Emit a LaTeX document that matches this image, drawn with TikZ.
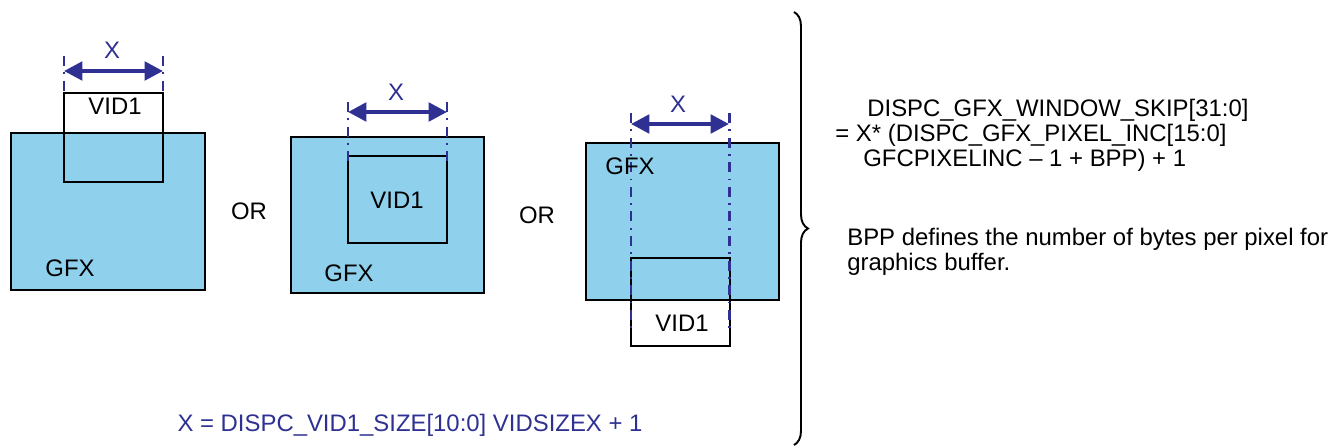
\documentclass[tikz,border=0pt]{standalone}
\usepackage{fontspec}
\setmainfont{Liberation Sans}
\usetikzlibrary{arrows.meta,decorations.pathreplacing}
\definecolor{gfxblue}{RGB}{143,208,236}
\definecolor{dimblue}{RGB}{46,49,146}
\tikzset{
  lbl/.style={font=\fontsize{13.6}{16}\selectfont, inner sep=0pt},
  winbox/.style={draw=black, line width=1.1pt},
  guide/.style={draw=dimblue, line width=1.7pt, dash pattern=on 5.7pt off 3.6pt on 1.1pt off 3.6pt},
  dim/.style={draw=dimblue, line width=2.3pt, {Triangle[length=10.5pt,width=10.5pt]}-{Triangle[length=10.5pt,width=10.5pt]}},
}
\begin{document}
\begin{tikzpicture}[x=0.02cm, y=-0.02cm]
  \useasboundingbox (0,0) rectangle (1336,447);

  % VID1 above GFX
  \draw[winbox, fill=gfxblue] (11,133) rectangle (205,290);
  \draw[winbox] (64,93) rectangle (163,182);
  \coordinate (aL) at (64,71);
  \coordinate (aR) at (163,71);
  \draw[guide] (64,56) -- (64,94);
  \draw[guide] (163,56) -- (163,94);
  \draw[dim] (aL) -- (aR);
  \node[lbl, text=dimblue] (xA) at (112,50) {X};
  \node[lbl] (vidA) at (115,106) {VID1};
  \node[lbl] (gfxA) at (70,268) {GFX};
  \node[lbl] (orA) at (249,211) {OR};

  % VID1 inside GFX
  \draw[winbox, fill=gfxblue] (291,137) rectangle (484,293);
  \draw[winbox] (348,156) rectangle (447,243);
  \coordinate (bL) at (348,112);
  \coordinate (bR) at (447,112);
  \draw[guide] (348,102) -- (348,162);
  \draw[guide] (447,102) -- (447,162);
  \draw[dim] (bL) -- (bR);
  \node[lbl, text=dimblue] (xB) at (396,92) {X};
  \node[lbl] (vidB) at (397,200) {VID1};
  \node[lbl] (gfxB) at (349,273) {GFX};
  \node[lbl] (orB) at (537,215) {OR};

  % VID1 below GFX
  \draw[winbox, fill=gfxblue] (586,143) rectangle (779,300);
  \draw[winbox] (631,258) rectangle (730,346);
  \coordinate (cL) at (631,124);
  \coordinate (cR) at (729,124);
  \draw[guide] (631,113) -- (631,330);
  \draw[guide] (729,113) -- (729,330);
  \draw[dim] (cL) -- (cR);
  \node[lbl, text=dimblue] (xC) at (678,104) {X};
  \node[lbl] (gfxC) at (630,166) {GFX};
  \node[lbl] (vidC) at (682,323) {VID1};

  \node[lbl, text=dimblue] (xdef) at (410,425) {X = DISPC\_VID1\_SIZE[10:0] VIDSIZEX + 1};

  \draw[line width=1.1pt, decorate, decoration={brace, amplitude=0.28cm}] (794,12) -- (794,445);

  \node[lbl, anchor=base west] (skipA) at (867,116) {DISPC\_GFX\_WINDOW\_SKIP[31:0]};
  \node[lbl, anchor=base west] (skipB) at (835,141) {= X* (DISPC\_GFX\_PIXEL\_INC[15:0]};
  \node[lbl, anchor=base west] (skipC) at (863,166) {GFCPIXELINC – 1 + BPP) + 1};
  \node[lbl, anchor=base west] (bppA) at (847,245) {BPP defines the number of bytes per pixel for};
  \node[lbl, anchor=base west] (bppB) at (847,270) {graphics buffer.};
\end{tikzpicture}
\end{document}
